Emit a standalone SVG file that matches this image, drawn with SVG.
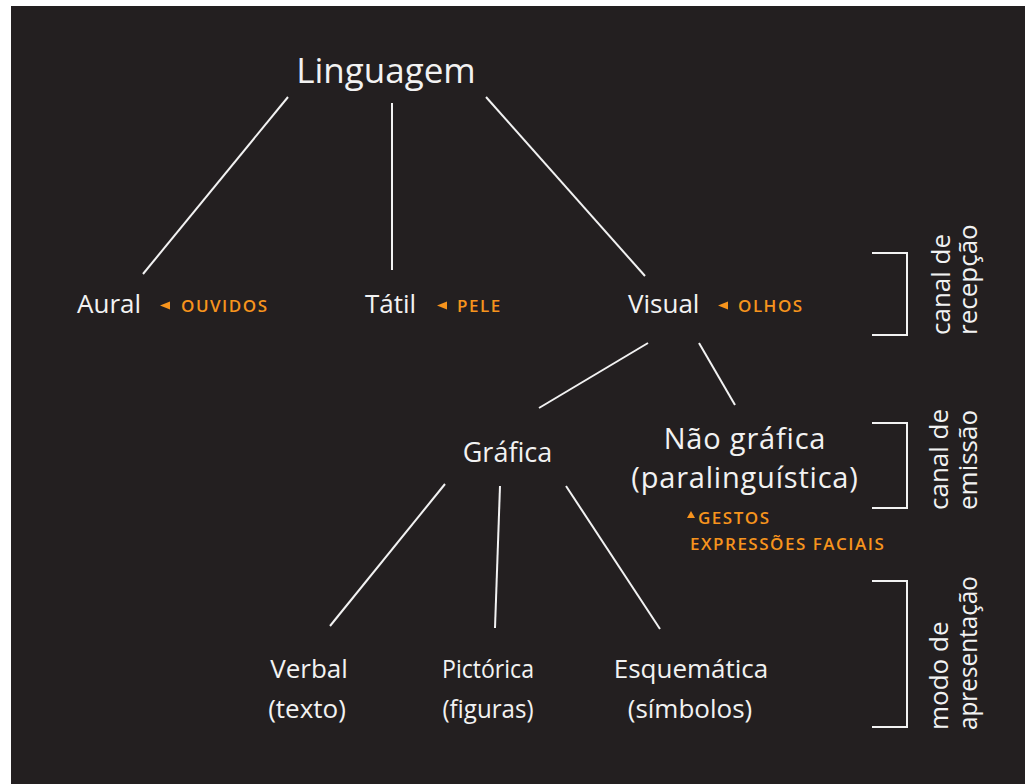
<svg xmlns="http://www.w3.org/2000/svg" width="1027" height="784" viewBox="0 0 1027 784">
<style>
.n{font-family:"Open Sans","Noto Sans","DejaVu Sans",sans-serif;fill:#f2f2f2;font-size:26px}
.o{font-family:"Open Sans","Noto Sans","DejaVu Sans",sans-serif;fill:#f7941d;font-size:17px;font-weight:600;letter-spacing:1.5px}
.tri{fill:#f7941d}
.ln{stroke:#f2f2f2;stroke-width:2;fill:none;stroke-linecap:butt}
.v{font-family:"Open Sans","Noto Sans","DejaVu Sans",sans-serif;fill:#f2f2f2;font-size:26px}
</style>
<rect width="1027" height="784" fill="#ffffff"/>
<rect x="11" y="6" width="1014" height="778" fill="#231f20"/>
<g id="connectors">
<line class="ln" x1="288" y1="97" x2="143" y2="274"/>
<line class="ln" x1="392" y1="103" x2="392" y2="270"/>
<line class="ln" x1="486" y1="97" x2="645" y2="276"/>
<line class="ln" x1="648" y1="343" x2="539" y2="408"/>
<line class="ln" x1="699" y1="343" x2="735" y2="405"/>
<line class="ln" x1="445" y1="484" x2="330" y2="626"/>
<line class="ln" x1="500" y1="486" x2="495" y2="628"/>
<line class="ln" x1="566" y1="486" x2="660" y2="629"/>
</g>
<g id="linguagem"><text class="n" x="386" y="83" text-anchor="middle" style="font-size:35px">Linguagem</text></g>
<g id="aural"><text class="n" x="77" y="313">Aural</text>
<polygon class="tri" points="160,305.5 170,301.5 170,309.5"/>
<text class="o" x="181" y="312">OUVIDOS</text></g>
<g id="tatil"><text class="n" x="365" y="313">Tátil</text>
<polygon class="tri" points="437,305.5 447,301.5 447,309.5"/>
<text class="o" x="457" y="312">PELE</text></g>
<g id="visual"><text class="n" x="628" y="313">Visual</text>
<polygon class="tri" points="718,305.5 728,301.5 728,309.5"/>
<text class="o" x="738" y="312">OLHOS</text></g>
<g id="grafica"><text class="n" x="507.5" y="462" text-anchor="middle" style="font-size:27px">Gráfica</text></g>
<g id="naografica"><text class="n" x="745" y="449" text-anchor="middle" style="font-size:29px;letter-spacing:0.8px">Não gráfica</text>
<text class="n" x="745" y="488" text-anchor="middle" style="font-size:29px;letter-spacing:0.8px">(paralinguística)</text>
<polygon class="tri" points="691,511 695,518 687,518"/>
<text class="o" x="698" y="524">GESTOS</text>
<text class="o" x="690" y="550">EXPRESSÕES FACIAIS</text></g>
<g id="verbal"><text class="n" x="309" y="678" text-anchor="middle">Verbal</text>
<text class="n" x="307" y="718" text-anchor="middle">(texto)</text></g>
<g id="pictorica"><text class="n" x="488" y="678" text-anchor="middle" textLength="92" lengthAdjust="spacingAndGlyphs">Pictórica</text>
<text class="n" x="488" y="718" text-anchor="middle" textLength="91" lengthAdjust="spacingAndGlyphs">(figuras)</text></g>
<g id="esquematica"><text class="n" x="691" y="678" text-anchor="middle">Esquemática</text>
<text class="n" x="690" y="718" text-anchor="middle">(símbolos)</text></g>
<g id="recepcao">
<polyline class="ln" points="872,253 907,253 907,335 872,335"/>
<text class="v" transform="translate(950,335) rotate(-90)">canal de</text>
<text class="v" transform="translate(977,335) rotate(-90)">recepção</text>
</g>
<g id="emissao">
<polyline class="ln" points="872,423 907,423 907,508 872,508"/>
<text class="v" transform="translate(948,510) rotate(-90)">canal de</text>
<text class="v" transform="translate(977,510) rotate(-90)">emissão</text>
</g>
<g id="modo">
<polyline class="ln" points="872,581 907,581 907,727 872,727"/>
<text class="v" transform="translate(948,730) rotate(-90)">modo de</text>
<text class="v" transform="translate(977,730) rotate(-90)" textLength="154" lengthAdjust="spacingAndGlyphs">apresentação</text>
</g>
</svg>
